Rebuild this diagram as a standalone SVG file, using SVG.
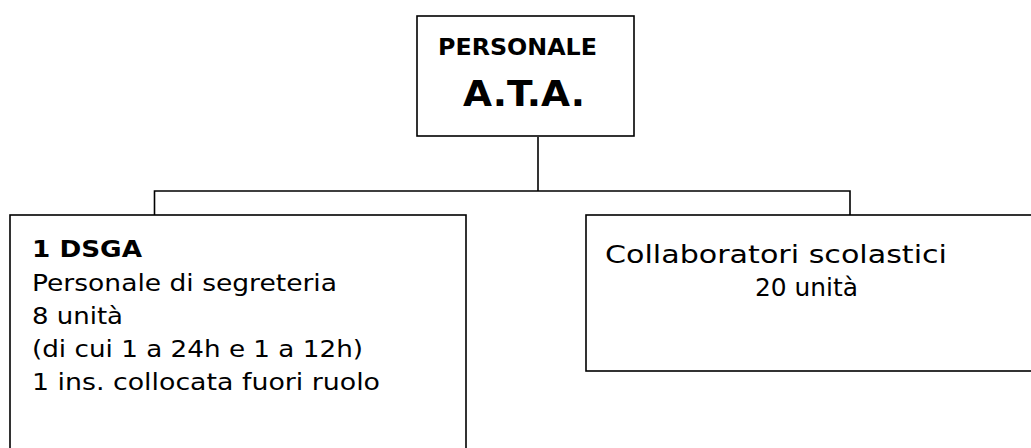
<svg xmlns="http://www.w3.org/2000/svg" width="1031" height="448" viewBox="0 0 1031 448">
<style>
.box{fill:#fff;stroke:#000;stroke-width:1.6}
.conn{fill:none;stroke:#000;stroke-width:1.6}
text{font-family:"DejaVu Sans","Liberation Sans",sans-serif;fill:#000}
.t{font-size:23px}
.r{font-size:25px}
.b{font-weight:bold}
</style>
<rect width="1031" height="448" fill="#fff"/>
<g id="connectors">
<line class="conn" x1="538" y1="137" x2="538" y2="191"/>
<polyline class="conn" points="154.5,215 154.5,191 850,191 850,215"/>
</g>
<g id="node-ata">
<rect class="box" x="417" y="16" width="217" height="120"/>
<text class="b" x="438" y="55" font-size="23" textLength="159" lengthAdjust="spacingAndGlyphs">PERSONALE</text>
<text class="b" x="463" y="106" font-size="35" textLength="122" lengthAdjust="spacingAndGlyphs">A.T.A.</text>
</g>
<g id="node-segreteria">
<rect class="box" x="10" y="215" width="456" height="250"/>
<text class="t b" x="32" y="257" textLength="110" lengthAdjust="spacingAndGlyphs">1 DSGA</text>
<text class="t" x="32" y="291" textLength="305" lengthAdjust="spacingAndGlyphs">Personale di segreteria</text>
<text class="t" x="32" y="324" textLength="91" lengthAdjust="spacingAndGlyphs">8 unità</text>
<text class="t" x="32" y="357" textLength="331" lengthAdjust="spacingAndGlyphs">(di cui 1 a 24h e 1 a 12h)</text>
<text class="t" x="32" y="390" textLength="348" lengthAdjust="spacingAndGlyphs">1 ins. collocata fuori ruolo</text>
</g>
<g id="node-collaboratori">
<rect class="box" x="586" y="215" width="460" height="156"/>
<text class="r" x="605" y="263" textLength="342" lengthAdjust="spacingAndGlyphs">Collaboratori scolastici</text>
<text class="r" x="755" y="296" textLength="103" lengthAdjust="spacingAndGlyphs">20 unità</text>
</g>
</svg>
